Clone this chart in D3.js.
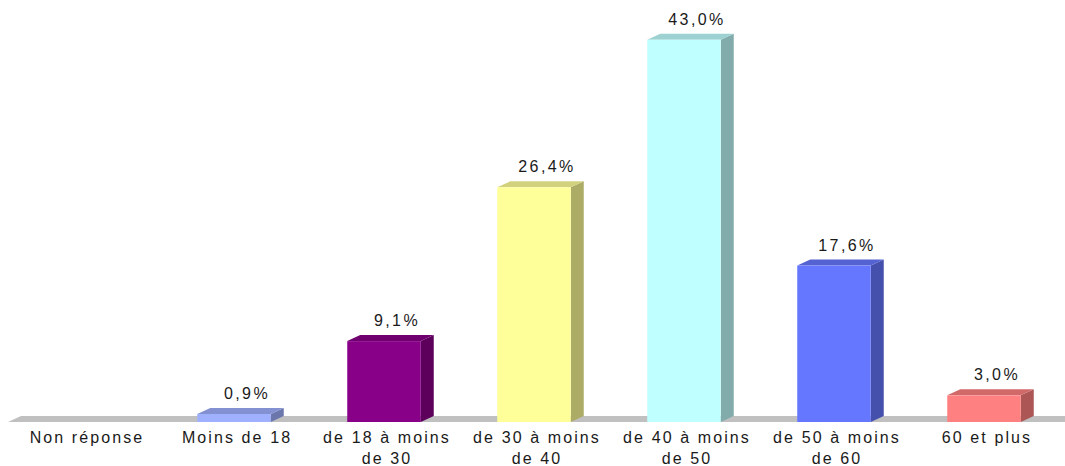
<!DOCTYPE html>
<html>
<head>
<meta charset="utf-8">
<script src="https://cdn.jsdelivr.net/npm/d3@7"></script>
<style>
  body { margin: 0; background: #fff; }
  text { font-family: "Liberation Sans", Arial, sans-serif; fill: #1a1a1a; }
</style>
</head>
<body>
<div id="chart"></div>
<script>
var categories = ["Non réponse", "Moins de 18", "de 18 à moins|de 30", "de 30 à moins|de 40",
                  "de 40 à moins|de 50", "de 50 à moins|de 60", "60 et plus"];
var values = [0, 0.9, 9.1, 26.4, 43.0, 17.6, 3.0];
var frontColors = ["#9fb0ff", "#9fb0ff", "#880088", "#ffff99", "#c0ffff", "#6677ff", "#ff8080"];

var width = 1065, height = 466;
var margin = { left: 9, right: 0 };
var depthX = 13, depthY = 6;

var svg = d3.select("#chart").append("svg")
    .attr("width", width)
    .attr("height", height);

var xScale = d3.scaleBand()
    .domain(categories)
    .range([margin.left, margin.left + 150 * 7])
    .paddingInner(0.51)
    .paddingOuter(0.255);

var yScale = d3.scaleLinear().domain([0, 45]).range([422, 22]);

// floor
var y0 = yScale(0);
svg.append("path")
    .attr("d", "M8," + y0 + "L" + width + "," + y0 + "L" + width + "," + (y0 - depthY) +
        "L" + (8 + depthX) + "," + (y0 - depthY) + "Z")
    .attr("fill", "#c0c0c0");

var bars = svg.selectAll("g.bar")
    .data(values.map(function (v, i) { return { v: v, c: categories[i], col: frontColors[i] }; }))
    .enter().append("g")
    .attr("class", "bar")
    .filter(function (d) { return d.v > 0; });

bars.each(function (d) {
    var g = d3.select(this);
    var x = xScale(d.c), w = xScale.bandwidth();
    var yt = yScale(d.v), yb = yScale(0);
    var base = d3.color(d.col);
    // side
    g.append("path")
        .attr("d", "M" + (x + w) + "," + yb + "L" + (x + w + depthX) + "," + (yb - depthY) +
            "L" + (x + w + depthX) + "," + (yt - depthY) + "L" + (x + w) + "," + yt + "Z")
        .attr("fill", base.darker(1.1));
    // top
    g.append("path")
        .attr("d", "M" + x + "," + yt + "L" + (x + depthX) + "," + (yt - depthY) +
            "L" + (x + w + depthX) + "," + (yt - depthY) + "L" + (x + w) + "," + yt + "Z")
        .attr("fill", base.darker(0.55));
    // front
    g.append("rect")
        .attr("x", x).attr("y", yt)
        .attr("width", w).attr("height", yb - yt)
        .attr("fill", d.col);
    // value label
    g.append("text")
        .attr("x", x + w / 2 + depthX)
        .attr("y", yt - depthY - 9)
        .attr("text-anchor", "middle")
        .style("font-size", "16px")
        .style("letter-spacing", "2.4px")
        .text(d3.format(".1f")(d.v).replace(".", ",") + "%");
});

// category labels
var labels = svg.selectAll("text.cat")
    .data(categories)
    .enter().append("text")
    .attr("class", "cat")
    .attr("text-anchor", "middle")
    .style("font-size", "16px")
    .style("letter-spacing", "2.1px")
    .attr("transform", function (d) {
        return "translate(" + (xScale(d) + xScale.bandwidth() / 2 + 3) + ",443)";
    });

labels.each(function (d) {
    var parts = d.split("|");
    var t = d3.select(this);
    parts.forEach(function (p, i) {
        t.append("tspan").attr("x", 0).attr("dy", i === 0 ? 0 : 21).text(p);
    });
});
</script>
</body>
</html>
